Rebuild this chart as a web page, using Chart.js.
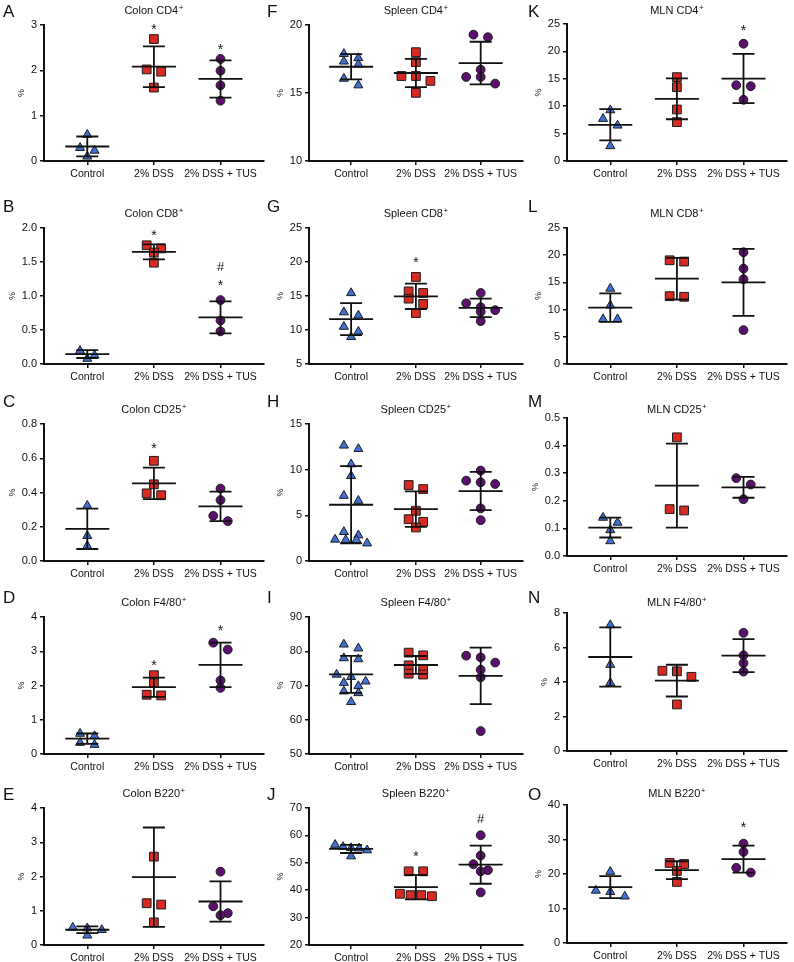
<!DOCTYPE html>
<html><head><meta charset="utf-8">
<script src="https://cdn.jsdelivr.net/npm/chart.js@4.4.1/dist/chart.umd.min.js"></script>
<style>
html,body{margin:0;padding:0;background:#fff;overflow:hidden;}
#wrap{position:relative;width:794px;height:962px;overflow:hidden;}
canvas{position:absolute;}
.lt{position:absolute;font-family:"Liberation Sans",Arial,Helvetica,sans-serif;font-size:17px;line-height:17px;color:#111;}
</style></head>
<body><div id="wrap"></div>
<script>
// ---------- shared labels ----------
const categories = ['Control', '2% DSS', '2% DSS + TUS'];
const panelLetters = ['A','B','C','D','E','F','G','H','I','J','K','L','M','N','O'];
const panelTitles = ['Colon CD4','Colon CD8','Colon CD25','Colon F4/80','Colon B220',
                     'Spleen CD4','Spleen CD8','Spleen CD25','Spleen F4/80','Spleen B220',
                     'MLN CD4','MLN CD8','MLN CD25','MLN F4/80','MLN B220'];
const yMin = [0, 0, 0, 0, 0, 10, 5, 0, 50, 20, 0, 0, 0, 0, 0];
const yMax = [3, 2, 0.8, 4, 4, 20, 25, 15, 90, 70, 25, 25, 0.5, 8, 40];
const yStep = [1, 0.5, 0.2, 1, 1, 5, 5, 5, 10, 10, 5, 5, 0.1, 2, 10];
const yDecimals = [0, 1, 1, 0, 0, 0, 0, 0, 0, 0, 0, 0, 1, 0, 0];

// ---------- A Colon CD4+ ----------
const A_control = [0.58, 0.29, 0.23, 0.10];
const A_dss = [2.69, 2.02, 1.97, 1.62];
const A_tus = [2.25, 1.99, 1.67, 1.33];
const A_mean = [0.32, 2.08, 1.81];
const A_sd = [0.22, 0.45, 0.41];
const A_marks = [[1, 2.98, '*'], [2, 2.54, '*']];
// ---------- B Colon CD8+ ----------
const B_control = [0.195, 0.127, 0.078];
const B_dss = [1.746, 1.70, 1.64, 1.49];
const B_tus = [0.94, 0.64, 0.48];
const B_mean = [0.146, 1.65, 0.685];
const B_sd = [0.058, 0.11, 0.235];
const B_marks = [[1, 1.946, '*'], [2, 1.21, '*'], [2, 1.43, '#']];
// ---------- C Colon CD25+ ----------
const C_control = [0.323, 0.147, 0.088];
const C_dss = [0.585, 0.448, 0.395, 0.384];
const C_tus = [0.423, 0.356, 0.264, 0.233];
const C_mean = [0.188, 0.453, 0.319];
const C_sd = [0.118, 0.092, 0.086];
const C_marks = [[1, 0.68, '*']];
// ---------- D Colon F4/80+ ----------
const D_control = [0.594, 0.525, 0.33, 0.27];
const D_dss = [2.30, 2.07, 1.73, 1.71];
const D_tus = [3.25, 3.05, 2.15, 1.93];
const D_mean = [0.448, 1.95, 2.60];
const D_sd = [0.15, 0.28, 0.65];
const D_marks = [[1, 2.69, '*'], [2, 3.72, '*']];
// ---------- E Colon B220+ ----------
const E_control = [0.51, 0.49, 0.44, 0.28];
const E_dss = [2.58, 1.22, 1.18, 0.66];
const E_tus = [2.14, 1.13, 0.93, 0.87];
const E_mean = [0.445, 1.98, 1.27];
const E_sd = [0.10, 1.45, 0.59];
const E_marks = [];
// ---------- F Spleen CD4+ ----------
const F_control = [17.88, 17.57, 17.32, 17.10, 16.06, 15.57];
const F_dss = [18.0, 17.27, 16.25, 16.25, 15.89, 15.01];
const F_tus = [19.29, 19.1, 16.72, 16.18, 16.18, 15.69];
const F_mean = [16.93, 16.47, 17.2];
const F_sd = [0.93, 1.04, 1.57];
const F_marks = [];
// ---------- G Spleen CD8+ ----------
const G_control = [15.44, 12.62, 12.14, 10.49, 9.76, 8.98];
const G_dss = [17.8, 15.68, 15.44, 14.61, 13.83, 12.48];
const G_tus = [15.44, 13.93, 13.35, 12.91, 12.67, 11.31];
const G_mean = [11.6, 14.95, 13.25];
const G_sd = [2.36, 1.86, 1.36];
const G_marks = [[1, 20.4, '*']];
// ---------- H Spleen CD25+ ----------
const H_control = [12.65, 12.28, 10.6, 9.31, 7.15, 6.6, 3.19, 2.82, 2.35, 2.31, 2.31, 1.94];
const H_dss = [8.32, 7.88, 5.5, 4.58, 4.29, 3.67];
const H_tus = [9.9, 8.8, 8.62, 8.43, 5.76, 4.47];
const H_mean = [6.16, 5.68, 7.66];
const H_sd = [4.23, 1.94, 2.09];
const H_marks = [];
// ---------- I Spleen F4/80+ ----------
const I_control = [82.0, 80.85, 78.0, 77.7, 73.2, 72.5, 71.2, 70.8, 69.85, 68.3, 67.8, 65.2];
const I_dss = [79.6, 78.8, 75.9, 74.7, 73.45, 73.2];
const I_tus = [78.7, 78.2, 76.7, 74.6, 72.4, 56.7];
const I_mean = [73.26, 75.99, 72.8];
const I_sd = [5.4, 2.62, 8.25];
const I_marks = [];
// ---------- J Spleen B220+ ----------
const J_control = [56.6, 55.8, 55.4, 55.3, 54.6, 52.4];
const J_dss = [46.9, 46.9, 38.7, 38.2, 38.2, 37.8];
const J_tus = [60.05, 52.65, 49.5, 47.3, 46.9, 39.2];
const J_mean = [55.07, 41.1, 49.3];
const J_sd = [1.5, 4.45, 6.95];
const J_marks = [[1, 53.5, '*'], [2, 66.2, '#']];
// ---------- K MLN CD4+ ----------
const K_control = [9.28, 7.7, 6.49, 2.73];
const K_dss = [15.3, 13.47, 9.4, 7.1];
const K_tus = [21.4, 13.83, 13.65, 11.17];
const K_mean = [6.6, 11.35, 15.05];
const K_sd = [2.85, 3.73, 4.49];
const K_marks = [[2, 24.4, '*']];
// ---------- L MLN CD8+ ----------
const L_control = [13.87, 10.76, 8.25, 8.25];
const L_dss = [19.07, 18.83, 12.47, 12.35];
const L_tus = [20.54, 17.54, 15.59, 6.23];
const L_mean = [10.35, 15.68, 15.0];
const L_sd = [2.62, 3.82, 6.15];
const L_marks = [];
// ---------- M MLN CD25+ ----------
const M_control = [0.139, 0.121, 0.094, 0.054];
const M_dss = [0.43, 0.17, 0.165];
const M_tus = [0.282, 0.259, 0.206];
const M_mean = [0.103, 0.255, 0.249];
const M_sd = [0.036, 0.152, 0.038];
const M_marks = [];
// ---------- N MLN F4/80+ ----------
const N_control = [7.3, 5.0, 3.95];
const N_dss = [4.65, 4.62, 4.3, 2.7];
const N_tus = [6.85, 5.55, 5.1, 4.6];
const N_mean = [5.45, 4.08, 5.53];
const N_sd = [1.72, 0.92, 0.96];
const N_marks = [];
// ---------- O MLN B220+ ----------
const O_control = [20.66, 15.2, 14.8, 13.5];
const O_dss = [23.2, 22.9, 20.9, 17.7];
const O_tus = [28.8, 26.4, 21.8, 20.4];
const O_mean = [16.2, 21.1, 24.3];
const O_sd = [3.2, 2.6, 3.9];
const O_marks = [[2, 34.4, '*']];

const panelGroups = [
  [A_control, A_dss, A_tus, A_mean, A_sd, A_marks],
  [B_control, B_dss, B_tus, B_mean, B_sd, B_marks],
  [C_control, C_dss, C_tus, C_mean, C_sd, C_marks],
  [D_control, D_dss, D_tus, D_mean, D_sd, D_marks],
  [E_control, E_dss, E_tus, E_mean, E_sd, E_marks],
  [F_control, F_dss, F_tus, F_mean, F_sd, F_marks],
  [G_control, G_dss, G_tus, G_mean, G_sd, G_marks],
  [H_control, H_dss, H_tus, H_mean, H_sd, H_marks],
  [I_control, I_dss, I_tus, I_mean, I_sd, I_marks],
  [J_control, J_dss, J_tus, J_mean, J_sd, J_marks],
  [K_control, K_dss, K_tus, K_mean, K_sd, K_marks],
  [L_control, L_dss, L_tus, L_mean, L_sd, L_marks],
  [M_control, M_dss, M_tus, M_mean, M_sd, M_marks],
  [N_control, N_dss, N_tus, N_mean, N_sd, N_marks],
  [O_control, O_dss, O_tus, O_mean, O_sd, O_marks]
];

// ---------- layout & style ----------
const FONT = '"Liberation Sans", Arial, Helvetica, sans-serif';
const INK = '#111';
const colAxisX = [44, 309, 567];
const colCatPx = [68, 66, 68];
const colRowTop = [[25, 228, 424, 617, 808], [25, 228, 424, 617, 808], [24, 228, 418, 613, 805]];
const colRowBottom = [[161, 364, 561, 754, 945], [161, 364, 561, 754, 945], [161, 364, 556, 751, 943]];
const titleY = [10, 213, 409, 602, 793];
const letterX = [3, 267, 528];
const letterY = [3, 198, 393, 589, 786];
const fills = ['#3f70d6', '#d62a22', '#5b0f6f'];
const shapes = ['triangle', 'rect', 'circle'];
const radii = [5.2, 6.2, 4.4];

// Prism-like column scatter: points binned by pixel height, spread symmetrically in each bin
function swarm(vals, yPix, binH) {
  const order = vals.map((v, i) => i).sort((a, b) => vals[b] - vals[a]);
  const off = new Array(vals.length).fill(0);
  let grp = [];
  const flush = () => {
    const n = grp.length;
    if (!n) return;
    const sp = n > 1 ? Math.min(14.5, 32 / (n - 1)) : 0;
    grp.forEach((i, k) => { off[i] = (k - (n - 1) / 2) * sp; });
    grp = [];
  };
  for (const i of order) {
    if (grp.length && Math.abs(yPix(vals[i]) - yPix(vals[grp[0]])) > binH) flush();
    grp.push(i);
  }
  flush();
  return off;
}

function decorPlugin(p, canvasTop, row) {
  const [ , , , means, sds, marks] = panelGroups[p];
  return {
    id: 'decor' + p,
    afterDatasetsDraw(chart) {
      const ctx = chart.ctx, xs = chart.scales.x, ys = chart.scales.y;
      ctx.save();
      ctx.strokeStyle = INK; ctx.lineWidth = 1.8;
      for (let g = 0; g < 3; g++) {
        const cx = xs.getPixelForValue(g);
        const m = ys.getPixelForValue(means[g]);
        const t = ys.getPixelForValue(means[g] + sds[g]);
        const b = ys.getPixelForValue(Math.max(yMin[p], means[g] - sds[g]));
        ctx.beginPath();
        ctx.moveTo(cx, t); ctx.lineTo(cx, b);
        ctx.moveTo(cx - 11, t); ctx.lineTo(cx + 11, t);
        ctx.moveTo(cx - 11, b); ctx.lineTo(cx + 11, b);
        ctx.moveTo(cx - 22, m); ctx.lineTo(cx + 22, m);
        ctx.stroke();
      }
      ctx.restore();
    },
    afterDraw(chart) {
      const ctx = chart.ctx, xs = chart.scales.x, ys = chart.scales.y, area = chart.chartArea;
      ctx.save();
      ctx.fillStyle = INK;
      // title with superscript +
      const main = panelTitles[p];
      ctx.font = '11px ' + FONT;
      const w1 = ctx.measureText(main).width;
      ctx.font = '8px ' + FONT;
      const w2 = ctx.measureText('+').width;
      const cx = xs.getPixelForValue(1);
      const x0 = cx - (w1 + w2 + 0.5) / 2;
      const base = titleY[row] - canvasTop + 4;
      ctx.textAlign = 'left'; ctx.textBaseline = 'alphabetic';
      ctx.font = '11px ' + FONT;
      ctx.fillText(main, x0, base);
      ctx.font = '8px ' + FONT;
      ctx.fillText('+', x0 + w1 + 0.5, base - 4);
      // y-axis "%" label
      ctx.font = '11px ' + FONT;
      let maxW = 0;
      ys.ticks.forEach(t => { maxW = Math.max(maxW, ctx.measureText(Number(t.value).toFixed(yDecimals[p])).width); });
      const px = area.left - 7 - maxW - 9;
      const py = (area.top + area.bottom) / 2;
      ctx.translate(px, py); ctx.rotate(-Math.PI / 2);
      ctx.font = '9px ' + FONT; ctx.textAlign = 'center'; ctx.textBaseline = 'middle';
      ctx.fillText('%', 0, 0);
      ctx.setTransform(1, 0, 0, 1, 0, 0);
      // significance marks
      ctx.textAlign = 'center'; ctx.textBaseline = 'alphabetic';
      marks.forEach(([g, v, s]) => {
        const x = xs.getPixelForValue(g), y = ys.getPixelForValue(v);
        if (s === '*') { ctx.font = '14px ' + FONT; ctx.fillText(s, x, y + 8); }
        else { ctx.font = '13px ' + FONT; ctx.fillText(s, x, y + 4.7); }
      });
      ctx.restore();
    }
  };
}

const wrap = document.getElementById('wrap');
for (let p = 0; p < 15; p++) {
  const col = Math.floor(p / 5), row = p % 5;
  const groups = panelGroups[p].slice(0, 3);
  const top = colRowTop[col][row], bottom = colRowBottom[col][row];
  const plotH = bottom - top;
  const plotW = 3.3 * colCatPx[col];
  const W = Math.round(44 + plotW + 3);
  const H = 25 + plotH + 26;
  const canvasTop = top - 25;
  const cv = document.createElement('canvas');
  cv.width = W; cv.height = H;
  cv.style.left = (colAxisX[col] - 44) + 'px';
  cv.style.top = canvasTop + 'px';
  cv.style.width = W + 'px'; cv.style.height = H + 'px';
  wrap.appendChild(cv);

  const lt = document.createElement('div');
  lt.className = 'lt'; lt.textContent = panelLetters[p];
  lt.style.left = letterX[col] + 'px'; lt.style.top = letterY[row] + 'px';
  wrap.appendChild(lt);

  const nTicks = Math.round((yMax[p] - yMin[p]) / yStep[p]);
  const tickVals = [];
  for (let i = 0; i <= nTicks; i++) tickVals.push(+(yMin[p] + i * yStep[p]).toFixed(4));

  const gridOpt = {drawOnChartArea: false, drawTicks: true, tickLength: 4, color: INK, lineWidth: 1.5};
  const borderOpt = {display: true, color: INK, width: 2};
  const chart = new Chart(cv, {
    type: 'scatter',
    data: {
      datasets: groups.map((vals, g) => ({
        data: vals.map(v => ({x: g, y: v})),
        pointStyle: shapes[g], pointRadius: radii[g], pointHoverRadius: radii[g],
        backgroundColor: fills[g], borderColor: '#1c1c1c', borderWidth: 1, showLine: false
      }))
    },
    options: {
      responsive: false, animation: false, devicePixelRatio: 1,
      layout: {padding: {top: 25, right: 3, left: 0, bottom: 0}},
      plugins: {legend: {display: false}, tooltip: {enabled: false}, title: {display: false}},
      events: [],
      scales: {
        x: {
          type: 'linear', min: -0.65, max: 2.65,
          afterBuildTicks: a => { a.ticks = [0, 1, 2].map(v => ({value: v})); },
          afterFit: a => { a.height = H - 25 - plotH; },
          ticks: {callback: v => categories[v] ?? '', font: {size: 10.5, family: FONT}, color: INK,
                  padding: 3, maxRotation: 0, autoSkip: false},
          grid: gridOpt, border: borderOpt
        },
        y: {
          min: yMin[p], max: yMax[p],
          afterBuildTicks: a => { a.ticks = tickVals.map(v => ({value: v})); },
          afterFit: a => { a.width = 44; },
          ticks: {callback: v => Number(v).toFixed(yDecimals[p]), font: {size: 11, family: FONT}, color: INK,
                  padding: 3, autoSkip: false},
          grid: gridOpt, border: borderOpt
        }
      }
    },
    plugins: [decorPlugin(p, canvasTop, row)]
  });
  const xs = chart.scales.x, ys = chart.scales.y;
  const ppc = xs.getPixelForValue(1) - xs.getPixelForValue(0);
  groups.forEach((vals, g) => {
    const off = swarm(vals, v => ys.getPixelForValue(v), 7);
    chart.data.datasets[g].data = vals.map((v, i) => ({x: g + off[i] / ppc, y: v}));
  });
  chart.update('none');
}
</script>
</body></html>
